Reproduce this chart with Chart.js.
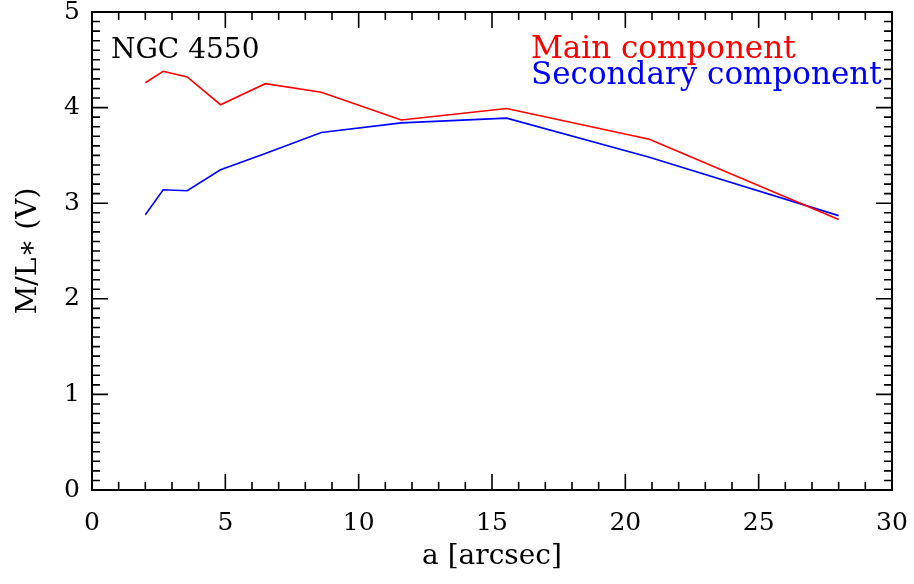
<!DOCTYPE html>
<html>
<head>
<meta charset="utf-8">
<script src="https://cdn.jsdelivr.net/npm/chart.js@4.4.0/dist/chart.umd.min.js"></script>
<style>
  html, body { margin: 0; padding: 0; background: #fff; }
  #wrap { width: 914px; height: 584px; }
</style>
</head>
<body>
<div id="wrap"><canvas id="myChart"></canvas></div>
<script>
const radius = [2.0, 2.67, 3.57, 4.82, 6.5, 8.6, 11.6, 15.55, 20.9, 28.0];
const mainML = [4.26, 4.38, 4.32, 4.03, 4.25, 4.16, 3.87, 3.99, 3.67, 2.83];
const secondML = [2.88, 3.14, 3.13, 3.35, 3.52, 3.74, 3.84, 3.89, 3.48, 2.87];

const galaxyName = "NGC 4550";
const serif = "'DejaVu Serif', 'Liberation Serif', serif";

function pts(ys) {
  return radius.map((x, i) => ({ x: x, y: ys[i] }));
}

// IDL style box with inward ticks on every side, plus the labels in the corner
const boxPlugin = {
  id: "box",
  afterDraw(chart) {
    const c = chart.ctx;
    const a = chart.chartArea;
    const xs = chart.scales.x;
    const ys = chart.scales.y;
    c.save();
    c.strokeStyle = "#000";
    c.lineWidth = 2;
    c.strokeRect(a.left, a.top, a.right - a.left, a.bottom - a.top);
    c.lineWidth = 1.6;
    c.beginPath();
    for (let k = 0; k <= 30; k++) {
      const px = xs.getPixelForValue(k);
      const len = k % 5 === 0 ? 16 : 8;
      c.moveTo(px, a.bottom); c.lineTo(px, a.bottom - len);
      c.moveTo(px, a.top); c.lineTo(px, a.top + len);
    }
    for (let k = 0; k <= 50; k++) {
      const py = ys.getPixelForValue(k / 10);
      const len = k % 10 === 0 ? 16 : 8;
      c.moveTo(a.left, py); c.lineTo(a.left + len, py);
      c.moveTo(a.right, py); c.lineTo(a.right - len, py);
    }
    c.stroke();

    c.textBaseline = "alphabetic";
    c.textAlign = "left";
    c.font = "28px " + serif;
    c.fillStyle = "#000";
    c.fillText(galaxyName, a.left + 19, a.top + 46);
    c.font = "31px " + serif;
    chart.data.datasets.forEach((ds, i) => {
      c.fillStyle = ds.borderColor;
      c.fillText(ds.label, a.left + 439, a.top + 46 + i * 26);
    });
    c.restore();
  },
};

const ctx = document.getElementById("myChart").getContext("2d");

const config = {
  type: "line",
  data: {
    datasets: [
      {
        label: "Main component",
        data: pts(mainML),
        borderColor: "#ff0000",
        borderWidth: 1.6,
        pointRadius: 0,
        tension: 0,
      },
      {
        label: "Secondary component",
        data: pts(secondML),
        borderColor: "#0000ff",
        borderWidth: 1.6,
        pointRadius: 0,
        tension: 0,
      },
    ],
  },
  options: {
    responsive: true,
    maintainAspectRatio: false,
    animation: false,
    layout: { padding: { left: 0, right: 22, top: 12, bottom: 0 } },
    plugins: {
      legend: { display: false },
      tooltip: { enabled: false },
    },
    scales: {
      x: {
        type: "linear",
        min: 0,
        max: 30,
        grid: { display: false, drawTicks: false },
        border: { display: false },
        ticks: {
          stepSize: 5,
          padding: 18,
          color: "#000",
          font: { family: serif, size: 25 },
          maxRotation: 0,
        },
        title: {
          display: true,
          text: "a [arcsec]",
          color: "#000",
          font: { family: serif, size: 28 },
          padding: { top: 0, bottom: 10 },
        },
        afterFit(scale) {
          scale.height = 94;
          scale.paddingLeft = 0;
          scale.paddingRight = 0;
        },
      },
      y: {
        min: 0,
        max: 5,
        grid: { display: false, drawTicks: false },
        border: { display: false },
        ticks: {
          stepSize: 1,
          padding: 12,
          color: "#000",
          font: { family: serif, size: 25 },
        },
        title: {
          display: true,
          text: "M/L\u2217 (V)",
          color: "#000",
          font: { family: serif, size: 28 },
          padding: { top: 12, bottom: 0 },
        },
        afterFit(scale) {
          scale.width = 92;
          scale.paddingTop = 0;
          scale.paddingBottom = 0;
        },
      },
    },
  },
  plugins: [boxPlugin],
};

const myChart = new Chart(ctx, config);
</script>
</body>
</html>
